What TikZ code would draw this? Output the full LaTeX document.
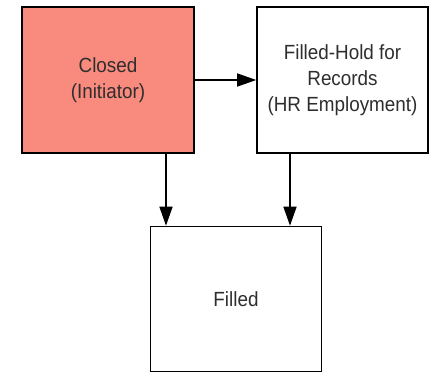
\documentclass[tikz,border=0pt]{standalone}
\usepackage{fontspec}
\setmainfont{Liberation Sans}[FakeStretch=0.92]
\usetikzlibrary{arrows.meta}
\definecolor{closedred}{HTML}{F98A7E}
\definecolor{txt}{HTML}{2E2E2E}
\tikzset{
  statebox/.style={draw=black, line width=1.6pt, fill=white, text=txt,
    align=center, inner sep=0pt,
    font=\fontsize{20.5}{26}\selectfont},
  arr/.style={line width=1.5pt, -{Triangle[length=19pt,width=13pt]}},
}
\begin{document}
\begin{tikzpicture}[x=1pt, y=-1pt]
  \useasboundingbox (0,0) rectangle (435,373);
  % three states
  \node[statebox, fill=closedred, minimum width=172pt, minimum height=146pt]
    (closed) at (108,80) {Closed\\(Initiator)};
  \node[statebox, minimum width=171pt, minimum height=146pt]
    (hold) at (342.5,80) {Filled-Hold for\\Records\\(HR Employment)};
  \node[statebox, minimum width=171pt, minimum height=145pt]
    (filled) at (236,299) {Filled};
  % transitions
  \draw[arr] (closed.east) -- (hold.west);
  \draw[arr] ([xshift=58pt]closed.south) -- ([xshift=-70pt]filled.north);
  \draw[arr] ([xshift=-52.5pt]hold.south) -- ([xshift=54pt]filled.north);
\end{tikzpicture}
\end{document}
